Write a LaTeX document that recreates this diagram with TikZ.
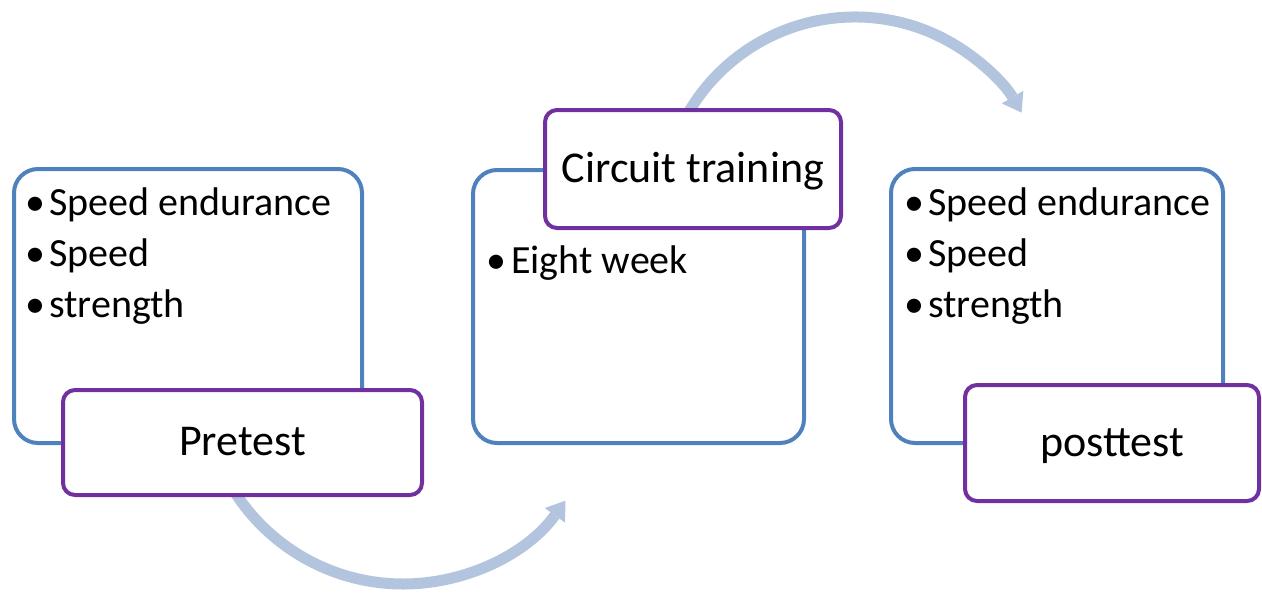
\documentclass[tikz,border=0pt]{standalone}
\usepackage{fontspec}
\setmainfont{Carlito}
\usetikzlibrary{arrows.meta}
\definecolor{boxblue}{RGB}{79,129,189}
\definecolor{boxpurple}{RGB}{112,48,160}
\definecolor{arrowblue}{RGB}{179,196,222}
\begin{document}
\begin{tikzpicture}[x=1pt,y=-1pt,
  bluebox/.style={draw=boxblue,line width=4pt,rounded corners=24pt,fill=white,inner sep=0pt},
  labelbox/.style={draw=boxpurple,line width=4pt,rounded corners=12pt,fill=white,inner sep=0pt,
    font=\fontsize{44}{53}\selectfont,text height=30pt,text depth=4pt},
  bulletline/.style={anchor=base west,inner sep=0pt,font=\fontsize{40}{50}\selectfont},
  cyclearrow/.style={draw=arrowblue,line width=11pt,
    -{Triangle[length=18pt,width=25pt,line width=0pt,fill=arrowblue]}}]
\useasboundingbox (0,0) rectangle (1262,595);
% arrows (behind the boxes)
\coordinate (c1) at (403,384);
\coordinate (c2) at (855,210);
\coordinate (a1s) at ([shift={(210:200pt)}]c1);
\coordinate (a2s) at ([shift={(150:193pt)}]c2);
\draw[cyclearrow] (a1s) arc[start angle=210,end angle=324.3,radius=200pt];
\draw[cyclearrow] (a2s) arc[start angle=150,end angle=30.3,radius=193pt];
% blue boxes
\node[bluebox,minimum width=348pt,minimum height=274pt] (b1) at (188,306) {};
\node[bluebox,minimum width=331pt,minimum height=273pt] (b2) at (638.5,306.5) {};
\node[bluebox,minimum width=332pt,minimum height=274pt] (b3) at (1057,306) {};
% bullet texts
\node[bulletline] (t11) at (25,215) {\makebox[24pt][l]{\textbullet}Speed endurance};
\node[bulletline] (t12) at (25,266) {\makebox[24pt][l]{\textbullet}Speed};
\node[bulletline] (t13) at (25,317) {\makebox[24pt][l]{\textbullet}strength};
\node[bulletline] (t21) at (486,273) {\makebox[25pt][l]{\textbullet}Eight week};
\node[bulletline] (t31) at (904,215) {\makebox[24pt][l]{\textbullet}Speed endurance};
\node[bulletline] (t32) at (904,266) {\makebox[24pt][l]{\textbullet}Speed};
\node[bulletline] (t33) at (904,317) {\makebox[24pt][l]{\textbullet}strength};
% purple label boxes
\node[labelbox,minimum width=359pt,minimum height=105pt] (pre) at (242.5,442.5) {Pretest};
\node[labelbox,minimum width=296pt,minimum height=118pt] (ct) at (693,169) {Circuit training};
\node[labelbox,minimum width=294pt,minimum height=116pt] (post) at (1112,443) {posttest};
\end{tikzpicture}
\end{document}
